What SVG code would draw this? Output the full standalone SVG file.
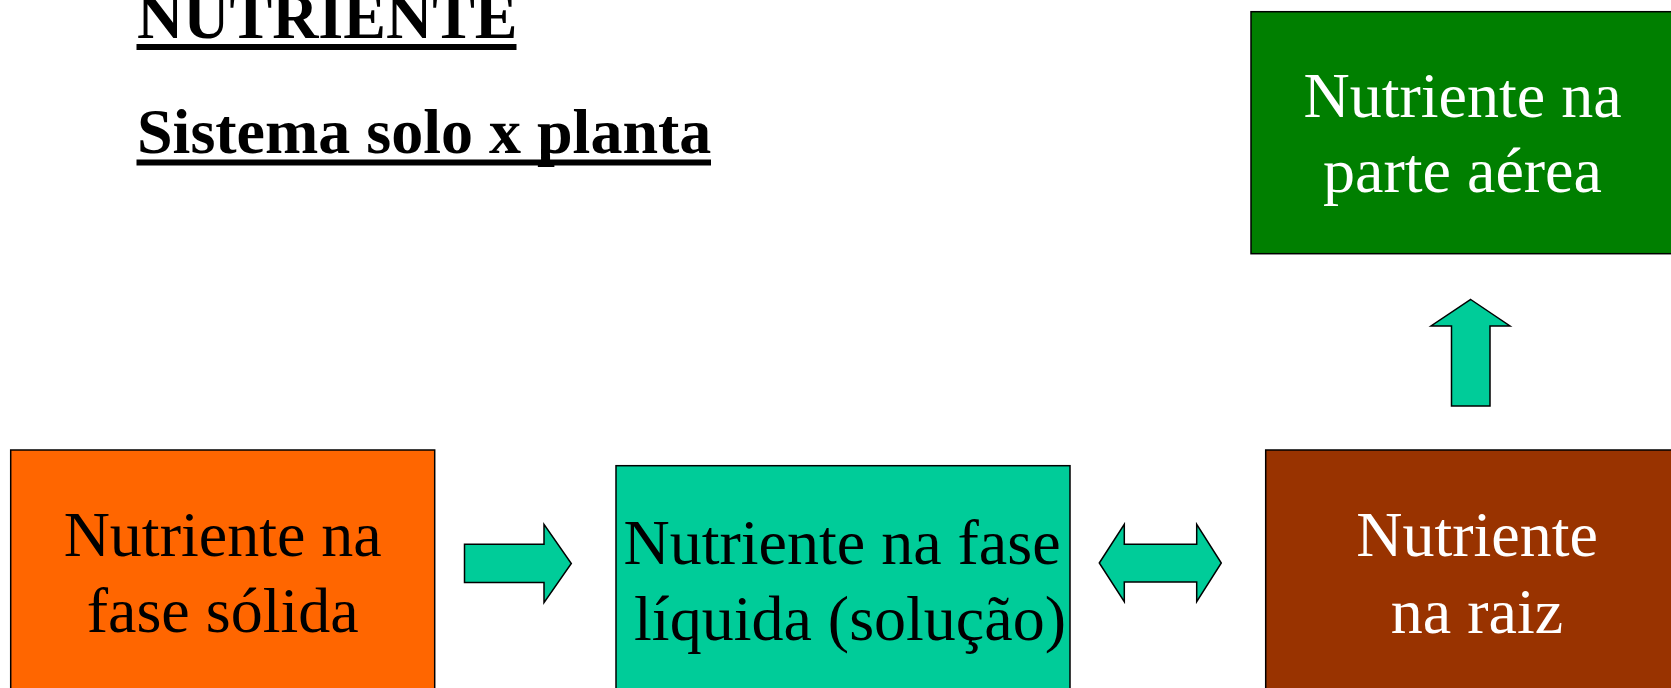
<svg xmlns="http://www.w3.org/2000/svg" width="1671" height="688" viewBox="0 0 1671 688">
<style>
.t{font-family:"Liberation Serif","Times New Roman",serif;font-size:64px;text-anchor:middle}
.h{font-family:"Liberation Serif","Times New Roman",serif;font-size:64px;font-weight:bold;fill:#000}
.box{stroke:#000;stroke-width:1.5}
.arr{fill:#00CC99;stroke:#000;stroke-width:1.5;stroke-linejoin:miter}
</style>
<rect width="1671" height="688" fill="#fff"/>
<g id="title">
<text class="h" x="137" y="38">NUTRIENTE</text>
<rect x="136.5" y="44" width="380" height="6" fill="#000"/>
<text class="h" x="137" y="153">Sistema solo x planta</text>
<rect x="136.5" y="159.5" width="574.5" height="6" fill="#000"/>
</g>
<g id="node-solida">
<rect class="box" x="10.7" y="450" width="424" height="260" fill="#FF6600"/>
<text class="t" x="222.7" y="556" fill="#000">Nutriente na</text>
<text class="t" x="222.7" y="632" fill="#000">fase sólida</text>
</g>
<g id="node-liquida">
<rect class="box" x="616" y="465.7" width="454" height="260" fill="#00CC99"/>
<text class="t" x="842" y="564" fill="#000">Nutriente na fase</text>
<text class="t" x="850" y="639.5" fill="#000">líquida (solução)</text>
</g>
<g id="node-raiz">
<rect class="box" x="1265.7" y="450" width="430" height="260" fill="#993300"/>
<text class="t" x="1477" y="556" fill="#fff">Nutriente</text>
<text class="t" x="1477" y="632.5" fill="#fff">na raiz</text>
</g>
<g id="node-aerea">
<rect class="box" x="1251" y="11.7" width="440" height="242" fill="#007F00"/>
<text class="t" x="1462.5" y="116.7" fill="#fff">Nutriente na</text>
<text class="t" x="1462.5" y="192" fill="#fff">parte aérea</text>
</g>
<g id="connectors">
<polygon class="arr" points="464.5,544.3 544,544.3 544,524.3 571.3,563.5 544,602.7 544,582.5 464.5,582.5"/>
<polygon class="arr" points="1099.3,563 1124.3,524.3 1124.3,544.3 1196.7,544.3 1196.7,524.3 1221.3,563 1196.7,601.7 1196.7,582 1124.3,582 1124.3,601.7"/>
<polygon class="arr" points="1470.7,299.5 1510,326 1490,326 1490,406 1451.5,406 1451.5,326 1431,326"/>
</g>
</svg>
